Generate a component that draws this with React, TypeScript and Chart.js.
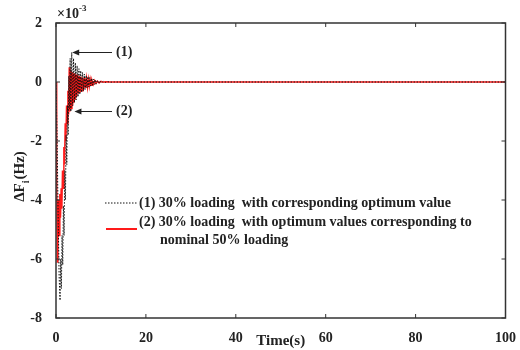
import React, { useEffect, useRef } from "react";
import { Chart, registerables } from "chart.js";
Chart.register(...registerables);

// Data (ΔF values in units of 10^-3 Hz)
const time1 = [0, 0.25, 0.5, 0.7, 0.9, 1.05, 1.2, 1.35, 1.5, 1.65, 1.8, 1.95, 2.1, 2.25, 2.4, 2.55, 2.7, 2.85, 3.0, 3.15, 3.3, 3.5, 3.7, 3.9, 4.1, 4.3, 4.5, 4.7, 4.9, 5.1, 5.3, 5.5, 5.7, 5.9, 6.1, 6.3, 6.5, 6.7, 6.9, 7.1, 7.3, 7.5, 7.7, 7.9, 8.1, 8.3, 8.5, 8.7, 8.9, 9.2, 9.5, 9.8, 10.1, 10.5, 11, 11.5, 12, 13, 100];
const dF1 = [0, -2.0, -4.8, -6.6, -7.4, -6.0, -7.0, -5.2, -6.2, -4.2, -5.2, -3.0, -4.0, -1.8, -2.8, -0.8, -1.8, 0.2, -0.9, 0.8, -1.0, 1.0, -0.8, 0.8, -0.7, 0.65, -0.6, 0.55, -0.5, 0.45, -0.42, 0.38, -0.35, 0.32, -0.3, 0.27, -0.25, 0.22, -0.2, 0.18, -0.17, 0.15, -0.14, 0.12, -0.11, 0.1, -0.09, 0.08, -0.07, 0.06, -0.05, 0.04, -0.03, 0.02, -0.015, 0.01, -0.005, 0, 0];
const time2 = [0, 0.15, 0.3, 0.42, 0.55, 0.7, 0.85, 1.0, 1.15, 1.3, 1.45, 1.6, 1.75, 1.9, 2.05, 2.2, 2.35, 2.5, 2.65, 2.8, 2.95, 3.1, 3.25, 3.4, 3.55, 3.7, 3.85, 4.0, 4.15, 4.3, 4.45, 4.6, 4.8, 5.0, 5.2, 5.4, 5.6, 5.8, 6.0, 6.2, 6.4, 6.6, 6.8, 7.0, 7.2, 7.4, 7.6, 7.8, 8.0, 8.3, 8.6, 8.9, 9.2, 9.6, 10, 10.5, 11, 12, 100];
const dF2 = [0, -3.0, -6.1, -5.0, -4.0, -5.2, -3.8, -4.6, -3.6, -4.3, -3.0, -3.6, -2.2, -2.8, -1.4, -2.0, -0.8, -1.4, -0.3, -1.1, 0.5, -1.0, 0.4, -0.9, 0.35, -0.8, 0.3, -0.7, 0.3, -0.6, 0.25, -0.5, 0.25, -0.4, 0.2, -0.35, 0.18, -0.3, 0.15, -0.25, 0.13, -0.2, 0.11, -0.17, 0.09, -0.14, 0.08, -0.11, 0.06, -0.08, 0.05, -0.05, 0.03, -0.03, 0.02, -0.01, 0.005, 0, 0];

const xTicks = [0, 20, 40, 60, 80, 100];
const yTicks = [-8, -6, -4, -2, 0, 2];
const legend1 = "(1) 30% loading  with corresponding optimum value";
const legend2a = "(2) 30% loading  with optimum values corresponding to";
const legend2b = "nominal 50% loading";
const xTitle = "Time(s)";
const yTitleMain = "ΔF";
const yTitleSub = "i";
const yTitleUnit = "(Hz)";
const arrow1 = { label: "(1)", t: 3.6, v: 1.0 };
const arrow2 = { label: "(2)", t: 4.1, v: -1.0 };

const FONT = "'Liberation Serif', 'Times New Roman', serif";
const INK = "#222";

const decorPlugin = {
  id: "decor",
  afterDraw(chart: any) {
    const ctx = chart.ctx;
    const { left, right, top, bottom } = chart.chartArea;
    const xs = chart.scales.x;
    const ys = chart.scales.y;
    ctx.save();
    // frame
    ctx.strokeStyle = "#333";
    ctx.lineWidth = 1.5;
    ctx.strokeRect(left, top, right - left, bottom - top);
    // inward ticks
    ctx.lineWidth = 1;
    ctx.beginPath();
    xTicks.forEach((t) => {
      const px = xs.getPixelForValue(t);
      ctx.moveTo(px, bottom); ctx.lineTo(px, bottom - 4);
      ctx.moveTo(px, top); ctx.lineTo(px, top + 4);
    });
    yTicks.forEach((t) => {
      const py = ys.getPixelForValue(t);
      ctx.moveTo(left, py); ctx.lineTo(left + 4, py);
      ctx.moveTo(right, py); ctx.lineTo(right - 4, py);
    });
    ctx.stroke();

    ctx.fillStyle = INK;
    ctx.strokeStyle = INK;
    // x10^-3
    ctx.font = `bold 14px ${FONT}`;
    ctx.textBaseline = "alphabetic";
    ctx.textAlign = "left";
    ctx.fillText("×10", left + 1, top - 5);
    const w10 = ctx.measureText("×10").width;
    ctx.font = `bold 9px ${FONT}`;
    ctx.fillText("-3", left + 1 + w10, top - 12);

    // axis titles
    ctx.font = `bold 15px ${FONT}`;
    ctx.textAlign = "center";
    ctx.textBaseline = "middle";
    ctx.fillText(xTitle, (left + right) / 2, 341);
    ctx.save();
    ctx.translate(20, 177);
    ctx.rotate(-Math.PI / 2);
    ctx.font = `bold 15px ${FONT}`;
    const wMain = ctx.measureText(yTitleMain).width;
    ctx.font = `bold 10px ${FONT}`;
    const wSub = ctx.measureText(yTitleSub).width;
    ctx.font = `bold 15px ${FONT}`;
    const wUnit = ctx.measureText(yTitleUnit).width;
    const x0 = -(wMain + wSub + wUnit) / 2;
    ctx.textAlign = "left";
    ctx.fillText(yTitleMain, x0, 0);
    ctx.font = `bold 10px ${FONT}`;
    ctx.fillText(yTitleSub, x0 + wMain, 6);
    ctx.font = `bold 15px ${FONT}`;
    ctx.fillText(yTitleUnit, x0 + wMain + wSub + 1, 0);
    ctx.restore();

    // arrows
    const drawArrow = (a: any) => {
      const tx = xs.getPixelForValue(a.t);
      const ty = ys.getPixelForValue(a.v);
      const ex = 112;
      ctx.lineWidth = 1;
      ctx.beginPath();
      ctx.moveTo(tx + 5, ty); ctx.lineTo(ex, ty);
      ctx.stroke();
      ctx.beginPath();
      ctx.moveTo(tx, ty); ctx.lineTo(tx + 7, ty - 3); ctx.lineTo(tx + 7, ty + 3); ctx.closePath();
      ctx.fill();
      ctx.font = `bold 14px ${FONT}`;
      ctx.textAlign = "left";
      ctx.textBaseline = "middle";
      ctx.fillText(a.label, ex + 4, ty);
    };
    drawArrow(arrow1);
    drawArrow(arrow2);

    // legend
    ctx.font = `bold 14px ${FONT}`;
    ctx.textAlign = "left";
    ctx.textBaseline = "middle";
    ctx.setLineDash([1.5, 1.5]);
    ctx.lineWidth = 1;
    ctx.strokeStyle = "#111";
    ctx.beginPath(); ctx.moveTo(105, 203); ctx.lineTo(137, 203); ctx.stroke();
    ctx.setLineDash([]);
    ctx.fillText(legend1, 139, 203);
    ctx.strokeStyle = "#ff1a1a";
    ctx.lineWidth = 2;
    ctx.beginPath(); ctx.moveTo(106, 229); ctx.lineTo(137, 229); ctx.stroke();
    ctx.fillText(legend2a, 139, 222);
    ctx.fillText(legend2b, 160, 240);
    ctx.restore();
  },
};

export default function App() {
  const ref = useRef<HTMLCanvasElement>(null);
  useEffect(() => {
    if (!ref.current) return;
    const chart = new Chart(ref.current, {
      type: "line",
      data: {
        datasets: [
          {
            label: legend1,
            data: time1.map((t, i) => ({ x: t, y: dF1[i] })),
            borderColor: "#111",
            borderWidth: 1,
            borderDash: [1.5, 1.5],
            pointRadius: 0,
            tension: 0,
            order: 0,
          },
          {
            label: legend2a + " " + legend2b,
            data: time2.map((t, i) => ({ x: t, y: dF2[i] })),
            borderColor: "#ff1a1a",
            borderWidth: 1.5,
            pointRadius: 0,
            tension: 0,
            order: 1,
          },
        ],
      },
      options: {
        responsive: false,
        animation: false,
        layout: { padding: { left: 0, right: 12, top: 23, bottom: 0 } },
        plugins: { legend: { display: false }, tooltip: { enabled: false } },
        scales: {
          x: {
            type: "linear",
            min: 0,
            max: 100,
            afterFit: (s: any) => { s.height = 32; },
            afterBuildTicks: (s: any) => { s.ticks = xTicks.map((v) => ({ value: v })); },
            grid: { display: false },
            border: { display: false },
            ticks: { color: INK, padding: 4, maxRotation: 0, font: { family: FONT, weight: "bold", size: 14 } },
          },
          y: {
            type: "linear",
            min: -8,
            max: 2,
            afterFit: (s: any) => { s.width = 56; },
            afterBuildTicks: (s: any) => { s.ticks = yTicks.map((v) => ({ value: v })); },
            grid: { display: false },
            border: { display: false },
            ticks: { color: INK, padding: 6, font: { family: FONT, weight: "bold", size: 14 } },
          },
        },
      },
      plugins: [decorPlugin],
    } as any);
    return () => chart.destroy();
  }, []);
  return (
    <div style={{ position: "absolute", left: 0, top: 0, width: 520, height: 350, background: "#fff" }}>
      <canvas ref={ref} width={520} height={350} />
    </div>
  );
}
